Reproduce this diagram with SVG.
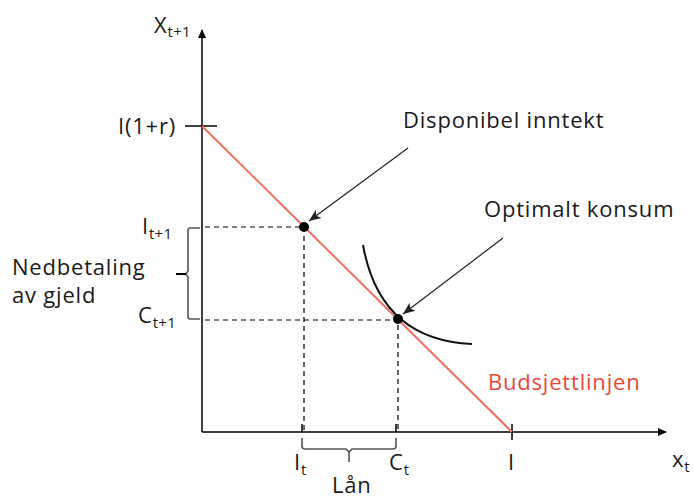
<svg xmlns="http://www.w3.org/2000/svg" width="693" height="499" viewBox="0 0 693 499">
<style>
text{font-family:"Open Sans","Liberation Sans",sans-serif;font-size:22px;letter-spacing:0.8px;fill:#1a1a1a}
.sub{font-size:15px;letter-spacing:0.3px}
.ax{stroke:#000;stroke-width:1.5;fill:none}
.dash{stroke:#000;stroke-width:1.2;stroke-dasharray:5,4;fill:none}
.br{stroke:#555;stroke-width:1.6;fill:none}
.ptr{stroke:#222;stroke-width:1.2;fill:none}
</style>
<defs>
<marker id="axh" markerWidth="10" markerHeight="10" refX="8" refY="5" orient="auto" markerUnits="userSpaceOnUse"><path d="M0,1 L9,5 L0,9 Z" fill="#000"/></marker>
<marker id="ph" markerWidth="14" markerHeight="12" refX="12" refY="6" orient="auto" markerUnits="userSpaceOnUse"><path d="M0,1 L12,6 L0,11 L3,6 Z" fill="#222"/></marker>
</defs>
<rect width="693" height="499" fill="#fff"/>
<g id="axes">
<line class="ax" x1="202" y1="432" x2="202" y2="30" marker-end="url(#axh)"/>
<line class="ax" x1="202" y1="432" x2="666" y2="432" marker-end="url(#axh)"/>
<line class="ax" x1="185" y1="126" x2="217" y2="126"/>
<line class="ax" x1="302" y1="424" x2="302" y2="432"/>
<line class="ax" x1="396" y1="424" x2="396" y2="432"/>
<line class="ax" x1="512" y1="424" x2="512" y2="440"/>
</g>
<g id="budget-line">
<line x1="202" y1="126" x2="512" y2="432" stroke="#f07060" stroke-width="2"/>
</g>
<g id="guides">
<path class="dash" d="M205,227 H304 V430"/>
<path class="dash" d="M205,320 H398 V430"/>
</g>
<g id="indifference-curve">
<path d="M363,245 Q380,340 472,344" stroke="#111" stroke-width="2" fill="none"/>
</g>
<g id="brackets">
<path class="br" d="M200,228 H190 Q188,228 188,231 V271 L186,274 L188,277 V316 Q188,319 190,319 H200"/>
<line x1="176" y1="274" x2="186" y2="274" stroke="#000" stroke-width="2"/>
<path class="br" d="M302,438 V446 Q302,449 305,449 H346 L349,452 L352,449 H393 Q396,449 396,446 V438"/>
<line x1="349" y1="452" x2="349" y2="462" stroke="#555" stroke-width="1.6"/>
</g>
<g id="points">
<circle cx="304" cy="227" r="5" fill="#000"/>
<circle cx="398" cy="319" r="5" fill="#000"/>
</g>
<g id="connectors">
<line class="ptr" x1="408" y1="148" x2="309" y2="221" marker-end="url(#ph)"/>
<line class="ptr" x1="503" y1="238" x2="403" y2="314" marker-end="url(#ph)"/>
</g>
<g id="labels">
<text x="154" y="33">X<tspan class="sub" dy="4">t+1</tspan></text>
<text x="118" y="134">I(1+r)</text>
<text x="142" y="234">I<tspan class="sub" dy="5">t+1</tspan></text>
<text x="138" y="323">C<tspan class="sub" dy="5">t+1</tspan></text>
<text x="12" y="275">Nedbetaling</text>
<text x="12" y="303">av gjeld</text>
<text x="294" y="470">I<tspan class="sub" dy="5">t</tspan></text>
<text x="389" y="470">C<tspan class="sub" dy="5">t</tspan></text>
<text x="508" y="470">I</text>
<text x="332" y="493">Lån</text>
<text x="672" y="467">x<tspan class="sub" dy="5">t</tspan></text>
<text x="403" y="128">Disponibel inntekt</text>
<text x="484" y="217">Optimalt konsum</text>
<text x="488" y="390" style="fill:#e8483a">Budsjettlinjen</text>
</g>
</svg>
